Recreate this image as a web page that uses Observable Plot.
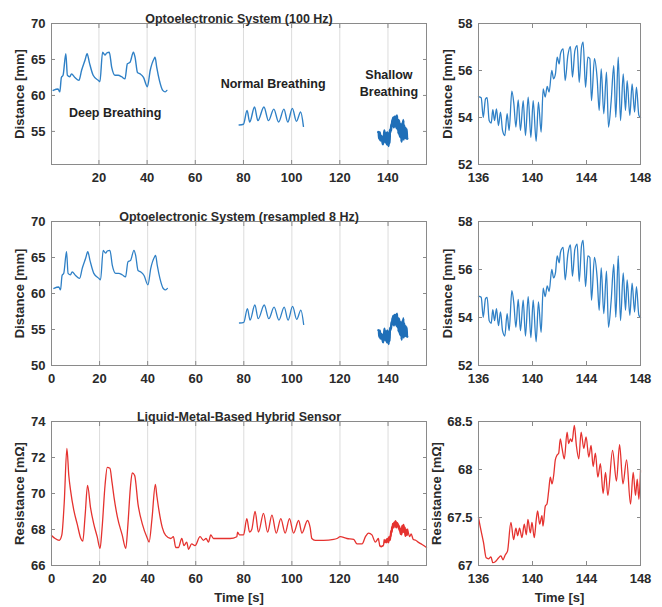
<!DOCTYPE html>
<html><head><meta charset="utf-8">
<script src="https://cdn.jsdelivr.net/npm/d3@7"></script>
<script src="https://cdn.jsdelivr.net/npm/@observablehq/plot@0.6"></script>
<style>
body{margin:0;background:#fff;}
#wrap{position:relative;width:662px;height:607px;overflow:hidden;background:#fff;}
#wrap svg{position:absolute;}
</style></head><body><div id="wrap"></div>
<script>
// ---------- data ----------
// Optoelectronic system, deep breathing (time s, distance mm)
const deepT = [1,3,3.75,4.4,5.1,6.25,6.9,7.9,8.6,10,11.7,12.8,14.2,15.1,16,17.6,19.7,20.4,21.5,22.5,23.2,24.3,25.3,26.7,28,29.4,30.8,31.8,32.9,34.3,35,36,37.1,38.5,40.1,41.3,42.9,43.3,44,45.1,46.5,47.5,48.2];
const deepV = [60.7,60.9,60.5,62.5,62.8,65.8,62.8,62.6,63.0,62.5,62.1,63.5,64.9,65.8,64.6,62.8,62.1,61.9,66.0,65.6,65.9,66.0,63.9,62.8,62.8,62.6,62.3,64.4,64.6,66.0,65.3,63.2,63.0,62.5,61.2,63.5,65.1,65.3,63.9,62.1,60.7,60.5,60.7];
// normal breathing
const normalT = [78.2,80.0,81.5,82.6,84.6,86.0,88.5,90.4,92.6,94.6,96.8,98.4,100.3,102.0,103.75,104.9];
const normalV = [55.9,56.0,57.9,56.3,58.4,56.5,58.4,56.5,58.1,56.3,58.1,56.3,58.2,56.4,57.7,55.7];
// shallow breathing
const shallowT = [136.00,136.20,136.35,136.52,136.64,136.79,136.94,137.06,137.19,137.33,137.48,137.63,137.78,137.95,138.12,138.27,138.47,138.62,138.77,138.94,139.11,139.31,139.48,139.68,139.88,140.05,140.27,140.44,140.64,140.79,140.94,141.09,141.23,141.43,141.56,141.70,141.83,141.98,142.07,142.27,142.42,142.62,142.81,142.96,143.14,143.31,143.46,143.63,143.75,143.93,144.10,144.25,144.37,144.59,144.79,144.94,145.09,145.28,145.48,145.63,145.83,146.02,146.17,146.35,146.52,146.72,146.89,147.01,147.21,147.38,147.56,147.70,147.88,148.00];
const shallowV = [54.89,54.84,54.01,54.79,54.84,53.87,53.76,54.33,53.87,54.37,53.66,54.23,53.45,53.23,54.16,53.45,55.12,54.58,53.59,54.75,53.45,54.72,53.23,54.87,53.16,54.72,52.99,54.65,53.38,55.22,54.87,55.32,55.08,56.00,55.65,55.86,56.57,56.28,56.71,56.92,55.57,56.64,57.02,55.72,56.85,57.06,55.50,56.99,57.21,55.29,56.57,56.50,54.72,56.50,55.65,54.30,56.07,54.16,55.93,53.59,54.72,56.21,54.01,56.57,53.87,55.86,54.30,55.57,54.09,55.43,54.23,55.29,54.09,54.00];
// liquid-metal hybrid sensor (time s, resistance mOhm)
const resT = [0,1.5,3.2,4.3,5.3,6.4,7.2,7.9,9.3,10.7,12.2,13.0,14.0,15.0,16.25,17.6,19.0,20.2,21.0,22.3,23.2,24.3,25.2,26.0,27.4,29.4,30.9,31.8,32.8,33.6,34.6,36.0,37.8,39.9,40.6,41.8,43.2,43.8,44.7,46.1,47.5,49.6,
  50.7,51.7,52.8,54.2,55.1,56.25,57,58.3,59.7,61.8,63.2,64.3,65.3,66.25,67.4,70.1,74.3,77.1,77.4,78.2,79.9,81.25,82.4,83.3,84.7,86.1,88.2,89.9,91.7,93.5,95.4,97.2,99,100.7,102.8,104.2,106.5,107.6,108.3,109.7,113.2,117.4,118.75,120.1,122.9,125.7,127.1,129.2,130.6,131.9,133.3,134.7,
  136.0,136.12,136.37,136.57,136.74,136.92,137.06,137.24,137.49,137.66,137.81,137.98,138.15,138.40,138.60,138.77,138.90,139.04,139.22,139.39,139.54,139.66,139.84,139.96,140.13,140.28,140.38,140.53,140.70,140.78,140.95,141.07,141.20,141.32,141.45,141.57,141.69,141.82,141.94,142.06,142.19,142.36,142.56,142.68,142.81,142.93,143.10,143.25,143.43,143.60,143.80,143.97,144.17,144.34,144.49,144.66,144.84,145.03,
  145.23,145.41,145.58,145.93,146.22,146.45,146.70,146.97,147.26,147.46,147.63,147.76,147.88,148.00,
  149.0,149.6,150.5,151.5,152.5,153.75,155,156];
const resV = [67.67,67.5,67.4,67.7,69.5,72.5,71.0,70.2,69.06,68.3,67.5,67.35,68.8,70.45,69.2,68.3,67.6,66.95,68.0,70.5,71.45,71.4,70.6,69.8,68.7,67.7,66.95,68.3,70.3,71.15,71.0,69.4,68.3,67.5,67.3,68.6,70.5,69.9,69.06,68.1,67.67,67.5,
  67.6,67.0,67.0,67.5,67.1,67.3,66.9,67.2,67.1,67.6,67.4,67.5,67.3,67.7,67.5,67.5,67.5,67.6,67.85,67.7,67.7,68.6,67.85,68.0,69.0,67.85,68.9,67.85,68.8,67.8,68.6,67.8,68.6,67.8,68.5,67.8,68.5,68.1,67.5,67.4,67.4,67.45,67.5,67.6,67.5,67.45,67.2,67.2,67.6,67.8,67.7,67.3,
  67.50,67.41,67.24,67.08,67.07,67.09,67.03,67.04,67.08,67.10,67.06,67.11,67.15,67.45,67.27,67.39,67.31,67.39,67.29,67.43,67.32,67.48,67.34,67.45,67.29,67.48,67.57,67.43,67.52,67.41,67.62,67.64,67.78,67.92,67.85,67.94,68.10,68.15,68.17,68.32,68.22,68.11,68.39,68.27,68.32,68.29,68.46,68.25,68.11,68.39,68.22,68.34,68.13,68.25,68.03,68.17,67.92,68.06,
  67.75,67.97,67.73,68.20,67.88,68.26,67.85,68.10,67.64,67.97,67.73,67.90,67.69,67.99,
  67.6,67.75,67.45,67.4,67.3,67.2,67.1,67.0];
// annotations
const annotLabels = ["Deep Breathing", "Normal Breathing", "Shallow\nBreathing"];
const annotT = [26.7, 92.3, 140.4];
const annotV = [57.8, 61.85, 61.8];
// titles and tick labels
const titles = ["Optoelectronic System (100 Hz)", "Optoelectronic System (resampled 8 Hz)", "Liquid-Metal-Based Hybrid Sensor"];
const xTicksTop = [20, 40, 60, 80, 100, 120, 140];
const xTicksFull = [0, 20, 40, 60, 80, 100, 120, 140];
const xTicksZoom = [136, 140, 144, 148];
const yTicksDist1 = [55, 60, 65, 70];
const yTicksDist2 = [50, 55, 60, 65, 70];
const yTicksDistZoom = [52, 54, 56, 58];
const yTicksRes = [66, 68, 70, 72, 74];
const yTicksResZoom = [67, 67.5, 68, 68.5];

// ---------- build tables ----------
const deep = deepT.map((t, i) => ({t, v: deepV[i], seg: "deep"}));
const normal = normalT.map((t, i) => ({t, v: normalV[i], seg: "normal"}));
const shallow = shallowT.map((t, i) => ({t, v: shallowV[i], seg: "shallow"}));
const blueMain = deep.concat(normal);
const red = resT.map((t, i) => ({t, v: resV[i]}));
const annots = annotLabels.map((label, i) => ({label, t: annotT[i], v: annotV[i]}));

const BLUE = "#2f80c6", BLUE_D = "#1f6fb8", RED = "#e5322f";
const FONT = "'Liberation Sans', Arial, Helvetica, sans-serif";
const AX = "#8a8a8a";
const CURVE = "monotone-x";
const fmt = d => String(d);
const wrap = document.getElementById("wrap");

function panel(o) {
  const p = Plot.plot({
    width: o.width, height: o.height,
    marginTop: o.mt, marginBottom: o.mb, marginLeft: o.ml, marginRight: o.mr,
    style: {fontFamily: FONT, fontSize: "13px", fontWeight: "bold", color: "#2a2a2a", background: "transparent", overflow: "visible"},
    x: {domain: o.xDomain},
    y: {domain: o.yDomain},
    marks: [
      o.grid ? Plot.gridX(o.grid, {stroke: "#dcdcdc", strokeOpacity: 1}) : null,
      ...o.series,
      Plot.frame({stroke: AX}),
      Plot.axisX(o.xTicks, {anchor: "bottom", tickSize: -4, tickPadding: 12, tickFormat: fmt, stroke: AX, fontSize: 13, label: o.xLabel ?? null, labelAnchor: "center", labelOffset: 36, labelArrow: "none"}),
      Plot.axisX(o.xTicks, {anchor: "top", tickSize: -4, stroke: AX, fill: "none", label: null}),
      Plot.axisY(o.yTicks, {anchor: "left", tickSize: -4, tickPadding: 10, tickFormat: fmt, stroke: AX, fontSize: 13, label: o.yLabel, labelAnchor: "center", labelOffset: o.yLabelOffset, labelArrow: "none"}),
      Plot.axisY(o.yTicks, {anchor: "right", tickSize: -4, stroke: AX, fill: "none", label: null}),
      o.title ? Plot.text([o.title], {frameAnchor: "top", dy: -9, fontSize: 12.5, fontWeight: "bold"}) : null,
      ...(o.extra || [])
    ]
  });
  p.style.left = o.left + "px";
  p.style.top = o.top + "px";
  wrap.append(p);
}

const L = {left: 0, width: 430, ml: 51, mr: 4};
const R = {left: 430, width: 232, ml: 48, mr: 22};
const rows = [
  {top: 0, height: 200, mt: 23, mb: 36},
  {top: 200, height: 200, mt: 21, mb: 35},
  {top: 400, height: 207, mt: 21, mb: 42}
];

// Row 1
panel({...L, ...rows[0], xDomain: [0.3, 156], yDomain: [50.4, 70], xTicks: xTicksTop, yTicks: yTicksDist1, grid: xTicksTop,
  title: titles[0], yLabel: "Distance [mm]", yLabelOffset: 37,
  series: [
    Plot.line(blueMain, {x: "t", y: "v", z: "seg", stroke: BLUE, strokeWidth: 1.4, curve: CURVE}),
    Plot.line(shallow, {x: "t", y: "v", stroke: BLUE_D, strokeWidth: 2.6, curve: CURVE})
  ],
  extra: [Plot.text(annots, {x: "t", y: "v", text: "label", lineHeight: 1.35, fontSize: 12.5, fontWeight: "bold", fill: "#222"})]
});
panel({...R, ...rows[0], xDomain: [136, 148], yDomain: [52, 58], xTicks: xTicksZoom, yTicks: yTicksDistZoom,
  yLabel: "Distance [mm]", yLabelOffset: 36,
  series: [Plot.line(shallow, {x: "t", y: "v", stroke: BLUE, strokeWidth: 1.3, curve: CURVE})]
});
// Row 2
panel({...L, ...rows[1], xDomain: [0, 156], yDomain: [50, 70], xTicks: xTicksFull, yTicks: yTicksDist2, grid: xTicksTop,
  title: titles[1], yLabel: "Distance [mm]", yLabelOffset: 37,
  series: [
    Plot.line(blueMain, {x: "t", y: "v", z: "seg", stroke: BLUE, strokeWidth: 1.3, curve: CURVE}),
    Plot.line(shallow, {x: "t", y: "v", stroke: BLUE_D, strokeWidth: 2.4, curve: CURVE})
  ]
});
panel({...R, ...rows[1], xDomain: [136, 148], yDomain: [52, 58], xTicks: xTicksZoom, yTicks: yTicksDistZoom,
  yLabel: "Distance [mm]", yLabelOffset: 36,
  series: [Plot.line(shallow, {x: "t", y: "v", stroke: BLUE, strokeWidth: 1.3, curve: CURVE})]
});
// Row 3
panel({...L, ...rows[2], xDomain: [0, 156], yDomain: [66, 74], xTicks: xTicksFull, yTicks: yTicksRes, grid: xTicksTop,
  title: titles[2], yLabel: "Resistance [mΩ]", yLabelOffset: 37, xLabel: "Time [s]",
  series: [
    Plot.line(red, {x: "t", y: "v", stroke: RED, strokeWidth: 1.3, curve: CURVE}),
    Plot.line(red.filter(d => d.t >= 139 && d.t <= 148), {x: "t", y: "v", stroke: RED, strokeWidth: 2.2, curve: CURVE})
  ]
});
panel({...R, ...rows[2], xDomain: [136, 148], yDomain: [67, 68.5], xTicks: xTicksZoom, yTicks: yTicksResZoom,
  yLabel: "Resistance [mΩ]", yLabelOffset: 47, xLabel: "Time [s]",
  series: [Plot.line(red.filter(d => d.t >= 136 && d.t <= 148), {x: "t", y: "v", stroke: RED, strokeWidth: 1.3, curve: CURVE})]
});
</script></body></html>
